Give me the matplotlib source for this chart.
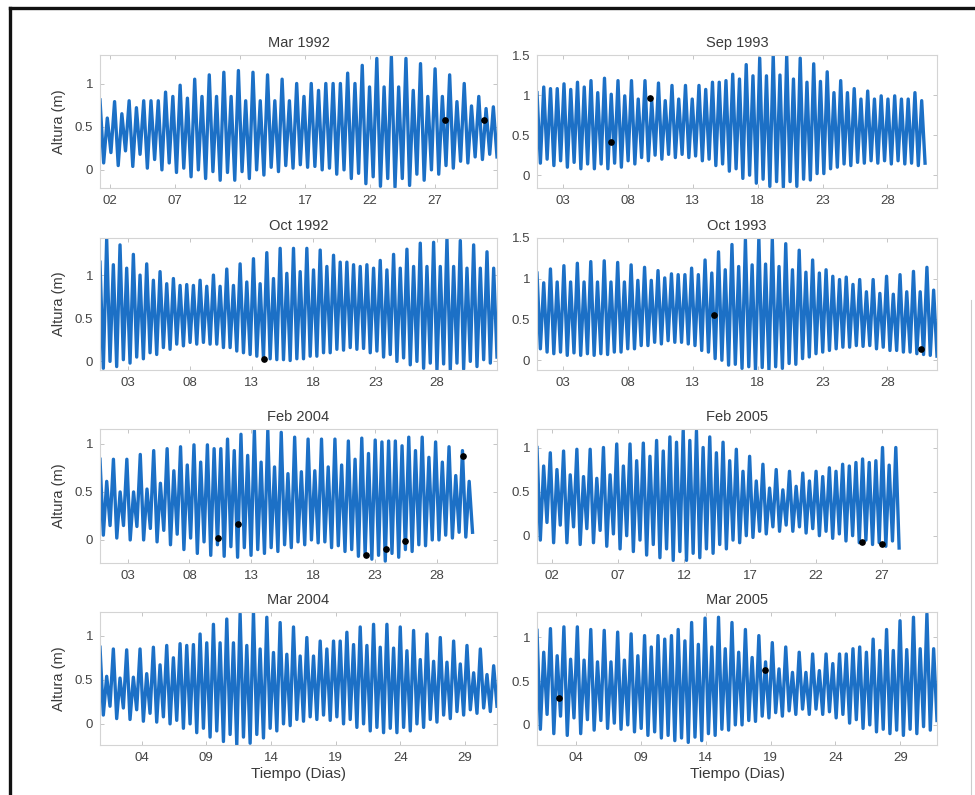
import numpy as np
import matplotlib
matplotlib.use('Agg')
import matplotlib.pyplot as plt
from matplotlib.lines import Line2D

plt.rcParams['font.family'] = ['Liberation Sans', 'DejaVu Sans']

# niveles de pleamar / bajamar consecutivos (m) para cada mes
mar1992_high = [0.81, 0.60, 0.79, 0.65, 0.80, 0.72, 0.80, 0.80, 0.80, 0.90,
                0.85, 0.98, 0.83, 1.05, 0.85, 1.10, 0.85, 1.13, 0.85, 1.15,
                0.80, 1.13, 0.80, 1.10, 0.80, 1.05, 0.80, 1.00, 0.85, 1.00,
                0.92, 1.00, 1.00, 1.00, 1.12, 1.00, 1.21, 0.96, 1.29, 0.96,
                1.31, 0.96, 1.29, 0.92, 1.23, 0.85, 1.17, 0.85, 1.10, 0.79,
                1.00, 0.74, 0.85, 0.71, 0.73]
mar1992_low = [0.08, 0.20, 0.05, 0.22, 0.04, 0.18, 0.02, 0.12, 0.00, 0.08,
               -0.03, 0.02, -0.08, 0.00, -0.10, -0.02, -0.12, -0.03, -0.12, -0.02,
               -0.10, 0.00, -0.06, 0.03, -0.02, 0.05, 0.02, 0.06, 0.03, 0.04,
               0.00, 0.02, -0.05, 0.00, -0.10, -0.04, -0.16, -0.08, -0.19, -0.10,
               -0.20, -0.10, -0.18, -0.05, -0.12, 0.00, -0.05, 0.05, 0.02, 0.10,
               0.08, 0.15, 0.12, 0.18, 0.15]

sep1993_high = [1.03, 1.10, 1.08, 1.08, 1.14, 1.07, 1.16, 1.10, 1.18, 1.03,
                1.21, 1.01, 1.18, 0.99, 1.18, 0.95, 1.18, 0.93, 1.15, 0.93,
                1.12, 0.95, 1.12, 0.95, 1.12, 1.07, 1.16, 1.16, 1.18, 1.26,
                1.20, 1.38, 1.24, 1.46, 1.24, 1.50, 1.25, 1.49, 1.20, 1.46,
                1.16, 1.39, 1.17, 1.29, 1.03, 1.18, 1.03, 1.08, 0.95, 1.05,
                0.95, 0.99, 0.95, 0.99, 0.95, 0.95, 1.03, 0.93]
sep1993_low = [0.15, 0.20, 0.12, 0.18, 0.10, 0.16, 0.08, 0.14, 0.08, 0.14,
               0.08, 0.15, 0.10, 0.18, 0.14, 0.22, 0.18, 0.25, 0.20, 0.26,
               0.22, 0.26, 0.22, 0.24, 0.18, 0.20, 0.12, 0.14, 0.05, 0.08,
               -0.04, 0.00, -0.10, -0.05, -0.14, -0.08, -0.15, -0.08, -0.14, -0.05,
               -0.06, 0.02, 0.02, 0.08, 0.10, 0.14, 0.12, 0.16, 0.15, 0.18,
               0.15, 0.18, 0.14, 0.18, 0.14, 0.15, 0.12, 0.15]

oct1992_high = [1.15, 1.42, 1.12, 1.35, 1.08, 1.24, 1.00, 1.13, 0.94, 1.04,
                0.90, 0.96, 0.88, 0.89, 0.88, 0.94, 0.87, 1.00, 0.87, 1.07,
                0.88, 1.13, 0.92, 1.19, 0.90, 1.26, 0.96, 1.31, 1.02, 1.31,
                1.04, 1.31, 1.06, 1.29, 1.10, 1.23, 1.15, 1.15, 1.12, 1.10,
                1.12, 1.08, 1.17, 1.06, 1.24, 1.08, 1.30, 1.10, 1.37, 1.10,
                1.38, 1.10, 1.42, 1.10, 1.40, 1.08, 1.35, 1.08, 1.27, 1.08]
oct1992_low = [-0.08, 0.00, -0.06, 0.02, -0.02, 0.05, 0.03, 0.10, 0.08, 0.16,
               0.14, 0.20, 0.18, 0.22, 0.20, 0.22, 0.20, 0.20, 0.16, 0.16,
               0.12, 0.10, 0.08, 0.06, 0.04, 0.03, 0.02, 0.02, 0.01, 0.03,
               0.03, 0.06, 0.06, 0.10, 0.10, 0.14, 0.13, 0.16, 0.14, 0.15,
               0.10, 0.12, 0.05, 0.08, 0.00, 0.04, -0.04, 0.00, -0.08, -0.02,
               -0.10, -0.03, -0.10, -0.02, -0.09, 0.00, -0.06, 0.02, -0.02, 0.05]

oct1993_high = [1.07, 0.95, 1.12, 0.96, 1.16, 0.96, 1.19, 0.96, 1.21, 0.96,
                1.22, 0.96, 1.20, 0.96, 1.17, 0.98, 1.14, 0.98, 1.10, 1.01,
                1.06, 1.05, 1.05, 1.13, 1.05, 1.23, 1.07, 1.33, 1.11, 1.42,
                1.15, 1.48, 1.17, 1.51, 1.18, 1.49, 1.15, 1.43, 1.11, 1.35,
                1.08, 1.23, 1.07, 1.11, 1.03, 0.99, 1.02, 0.93, 0.99, 0.84,
                0.99, 0.82, 1.03, 0.81, 1.05, 0.84, 1.09, 0.84, 1.14, 0.86]
oct1993_low = [0.14, 0.10, 0.08, 0.10, 0.06, 0.09, 0.06, 0.08, 0.06, 0.08,
               0.07, 0.10, 0.10, 0.14, 0.14, 0.18, 0.18, 0.22, 0.20, 0.24,
               0.22, 0.22, 0.20, 0.18, 0.12, 0.10, 0.02, 0.00, -0.06, -0.05,
               -0.10, -0.08, -0.12, -0.09, -0.12, -0.08, -0.10, -0.04, -0.05, 0.02,
               0.04, 0.08, 0.10, 0.12, 0.14, 0.16, 0.16, 0.18, 0.17, 0.18,
               0.14, 0.16, 0.12, 0.12, 0.10, 0.10, 0.08, 0.07, 0.06, 0.05]

feb2004_high = [0.84, 0.61, 0.84, 0.50, 0.84, 0.50, 0.89, 0.53, 0.93, 0.59,
                0.95, 0.72, 0.97, 0.78, 0.99, 0.81, 0.99, 0.95, 0.95, 1.05,
                0.93, 1.10, 0.88, 1.14, 0.81, 1.14, 0.76, 1.12, 0.69, 1.07,
                0.71, 1.05, 0.72, 1.05, 0.76, 1.05, 0.78, 1.03, 0.84, 1.06,
                0.90, 1.04, 1.02, 1.03, 1.03, 0.98, 1.07, 0.93, 1.07, 0.86,
                1.02, 0.81, 0.97, 0.67, 0.93, 0.61]
feb2004_low = [0.05, 0.15, 0.02, 0.15, 0.00, 0.14, 0.00, 0.12, -0.02, 0.10,
               -0.05, 0.06, -0.10, 0.02, -0.14, -0.02, -0.16, -0.05, -0.17, -0.07,
               -0.18, -0.08, -0.16, -0.10, -0.14, -0.08, -0.12, -0.05, -0.08, -0.02,
               -0.05, 0.00, -0.03, -0.02, -0.08, -0.06, -0.12, -0.10, -0.17, -0.15,
               -0.20, -0.16, -0.22, -0.14, -0.18, -0.10, -0.12, -0.05, -0.06, 0.00,
               0.00, 0.05, 0.02, 0.08, 0.03, 0.08]

feb2005_high = [1.00, 0.79, 0.94, 0.75, 0.96, 0.69, 0.98, 0.67, 0.98, 0.65,
                1.00, 0.69, 1.04, 0.79, 1.04, 0.85, 1.05, 0.90, 1.08, 0.96,
                1.12, 1.06, 1.19, 1.08, 1.19, 1.00, 1.12, 0.94, 1.06, 0.85,
                0.98, 0.73, 0.90, 0.62, 0.81, 0.54, 0.75, 0.52, 0.73, 0.56,
                0.71, 0.62, 0.73, 0.67, 0.77, 0.73, 0.81, 0.79, 0.83, 0.87,
                0.83, 0.85, 1.00, 0.80, 1.00]
feb2005_low = [-0.05, 0.15, -0.08, 0.12, -0.08, 0.10, -0.10, 0.08, -0.08, 0.06,
               -0.12, 0.02, -0.15, 0.00, -0.18, -0.05, -0.22, -0.10, -0.25, -0.15,
               -0.28, -0.18, -0.28, -0.20, -0.25, -0.15, -0.20, -0.10, -0.15, -0.05,
               -0.08, 0.00, -0.02, 0.05, 0.02, 0.10, 0.05, 0.12, 0.05, 0.10,
               0.03, 0.08, 0.00, 0.05, -0.03, 0.02, -0.06, 0.00, -0.08, -0.05,
               -0.10, -0.08, -0.12, -0.06, -0.14]

mar2004_high = [0.87, 0.54, 0.85, 0.52, 0.84, 0.53, 0.85, 0.57, 0.87, 0.67,
                0.89, 0.75, 0.91, 0.89, 0.90, 1.02, 0.92, 1.13, 0.92, 1.19,
                0.92, 1.25, 0.89, 1.27, 0.85, 1.21, 0.81, 1.15, 0.79, 1.10,
                0.77, 0.98, 0.77, 0.94, 0.85, 0.94, 0.94, 1.04, 0.90, 1.10,
                0.89, 1.13, 0.87, 1.13, 0.86, 1.10, 0.83, 1.06, 0.73, 1.02,
                0.71, 0.98, 0.70, 0.94, 0.68, 0.89, 0.58, 0.85, 0.56, 0.66]
mar2004_low = [0.10, 0.20, 0.06, 0.18, 0.05, 0.16, 0.03, 0.12, 0.02, 0.08,
               0.00, 0.04, -0.05, 0.00, -0.10, -0.05, -0.15, -0.08, -0.20, -0.12,
               -0.24, -0.15, -0.22, -0.12, -0.16, -0.05, -0.08, 0.00, -0.02, 0.05,
               0.03, 0.08, 0.05, 0.10, 0.04, 0.08, 0.00, 0.05, -0.04, 0.00,
               -0.08, -0.04, -0.10, -0.05, -0.10, -0.04, -0.08, 0.00, -0.04, 0.05,
               0.02, 0.10, 0.06, 0.14, 0.10, 0.16, 0.12, 0.18, 0.14, 0.20]

mar2005_high = [1.08, 0.83, 1.10, 0.79, 1.12, 0.75, 1.12, 0.74, 1.09, 0.72,
                1.08, 0.72, 1.06, 0.74, 1.04, 0.79, 1.02, 0.89, 1.02, 0.98,
                1.02, 1.09, 0.96, 1.17, 0.92, 1.22, 0.89, 1.23, 0.87, 1.17,
                0.83, 1.09, 0.77, 1.02, 0.72, 0.94, 0.64, 0.89, 0.60, 0.83,
                0.60, 0.81, 0.62, 0.81, 0.70, 0.81, 0.81, 0.87, 0.89, 0.83,
                0.98, 0.85, 1.09, 0.85, 1.19, 0.86, 1.23, 0.87, 1.27, 0.87]
mar2005_low = [-0.05, 0.12, -0.10, 0.10, -0.12, 0.08, -0.10, 0.06, -0.06, 0.05,
               -0.04, 0.02, -0.05, 0.00, -0.08, -0.04, -0.12, -0.08, -0.15, -0.12,
               -0.18, -0.15, -0.20, -0.14, -0.18, -0.10, -0.12, -0.05, -0.06, 0.00,
               0.00, 0.05, 0.04, 0.10, 0.08, 0.14, 0.10, 0.16, 0.12, 0.18,
               0.12, 0.18, 0.12, 0.15, 0.08, 0.12, 0.02, 0.06, -0.04, 0.00,
               -0.08, -0.05, -0.10, -0.06, -0.12, -0.05, -0.10, -0.02, -0.06, 0.05]

# puntos observados (dia, altura)
mar1992_obs_day = [27.8, 30.8]
mar1992_obs_h = [0.58, 0.58]
sep1993_obs_day = [6.7, 9.7]
sep1993_obs_h = [0.41, 0.96]
oct1992_obs_day = [14.0]
oct1992_obs_h = [0.03]
oct1993_obs_day = [14.6, 30.6]
oct1993_obs_h = [0.56, 0.14]
feb2004_obs_day = [10.3, 11.9, 22.3, 23.9, 25.4, 30.1]
feb2004_obs_h = [0.02, 0.17, -0.16, -0.09, -0.01, 0.87]
feb2005_obs_day = [25.5, 27.0]
feb2005_obs_h = [-0.07, -0.09]
mar2004_obs_day = []
mar2004_obs_h = []
mar2005_obs_day = [2.7, 18.6]
mar2005_obs_h = [0.31, 0.63]

titles = ['Mar 1992', 'Sep 1993', 'Oct 1992', 'Oct 1993',
          'Feb 2004', 'Feb 2005', 'Mar 2004', 'Mar 2005']
day_ticks = [[2, 7, 12, 17, 22, 27], [3, 8, 13, 18, 23, 28],
             [3, 8, 13, 18, 23, 28], [3, 8, 13, 18, 23, 28],
             [3, 8, 13, 18, 23, 28], [2, 7, 12, 17, 22, 27],
             [4, 9, 14, 19, 24, 29], [4, 9, 14, 19, 24, 29]]
# inicio y fin del registro (dia del mes)
rec_start = [1.23, 1.0, 0.73, 1.0, 0.76, 0.86, 0.78, 0.98]
rec_end = [31.77, 30.9, 32.85, 31.82, 30.9, 28.3, 31.47, 31.84]

highs = [mar1992_high, sep1993_high, oct1992_high, oct1993_high,
         feb2004_high, feb2005_high, mar2004_high, mar2005_high]
lows = [mar1992_low, sep1993_low, oct1992_low, oct1993_low,
        feb2004_low, feb2005_low, mar2004_low, mar2005_low]
obs_day = [mar1992_obs_day, sep1993_obs_day, oct1992_obs_day, oct1993_obs_day,
           feb2004_obs_day, feb2005_obs_day, mar2004_obs_day, mar2005_obs_day]
obs_h = [mar1992_obs_h, sep1993_obs_h, oct1992_obs_h, oct1993_obs_h,
         feb2004_obs_h, feb2005_obs_h, mar2004_obs_h, mar2005_obs_h]

# limites de ejes
xlims = [(1.23, 31.77), (1.0, 31.82), (0.73, 32.85), (1.0, 31.82),
         (0.76, 32.88), (0.86, 31.17), (0.78, 31.47), (0.98, 31.84)]
ylims = [(-0.21, 1.33), (-0.16, 1.5), (-0.1, 1.43), (-0.12, 1.5),
         (-0.24, 1.155), (-0.31, 1.21), (-0.24, 1.27), (-0.23, 1.29)]

W, H = 975, 795
fig = plt.figure(figsize=(W / 100, H / 100), dpi=100)

col_x = [(100, 497), (537, 937)]
row_y = [(55, 188), (238, 370), (429, 563), (612, 745)]

line_col = '#1c70c6'
frame_col = '#d4d4d4'
txt_col = '#3a3a3a'

for i in range(8):
    r, c = divmod(i, 2)
    x0, x1 = col_x[c]
    y0, y1 = row_y[r]
    ax = fig.add_axes([x0 / W, 1 - y1 / H, (x1 - x0) / W, (y1 - y0) / H])

    hi = highs[i]
    lo = lows[i]
    n = len(hi)
    serie = np.empty(2 * n)
    serie[0::2] = hi
    serie[1::2] = lo
    t = np.linspace(rec_start[i], rec_end[i], 2 * n)
    ax.plot(t, serie, color=line_col, lw=2.4, solid_joinstyle='round')
    if obs_day[i]:
        ax.plot(obs_day[i], obs_h[i], 'o', color='k', ms=3.8, zorder=5)

    ax.set_xlim(*xlims[i])
    ax.set_ylim(*ylims[i])
    ax.set_xticks(day_ticks[i])
    ax.set_xticklabels(['%02d' % d for d in day_ticks[i]])
    yt = [0, 0.5, 1] if ylims[i][1] < 1.5 else [0, 0.5, 1, 1.5]
    ax.set_yticks(yt)
    ax.set_yticklabels(['%g' % v for v in yt])

    for s in ax.spines.values():
        s.set_color(frame_col)
        s.set_linewidth(0.8)
    ax.tick_params(direction='in', length=3, width=0.6, color='#bbbbbb',
                   top=True, right=True, labelsize=9.5, labelcolor='#444444',
                   pad=5)
    ax.set_title(titles[i], fontsize=10.5, color=txt_col, pad=6)
    if c == 0:
        ax.set_ylabel('Altura (m)', fontsize=10.5, color=txt_col, labelpad=6)
    if r == 3:
        ax.set_xlabel('Tiempo (Dias)', fontsize=11, color=txt_col, labelpad=2)

# marco exterior (superior e izquierdo)
fig.add_artist(Line2D([10 / W, 1], [1 - 8 / H, 1 - 8 / H], color='#111111',
                      lw=2.4, transform=fig.transFigure))
fig.add_artist(Line2D([10 / W, 10 / W], [0, 1 - 8 / H], color='#111111',
                      lw=2.4, transform=fig.transFigure))
fig.add_artist(Line2D([971 / W, 971 / W], [0, 1 - 300 / H], color='#cccccc',
                      lw=0.8, transform=fig.transFigure))

fig.savefig('out.png', dpi=100, facecolor='white')
